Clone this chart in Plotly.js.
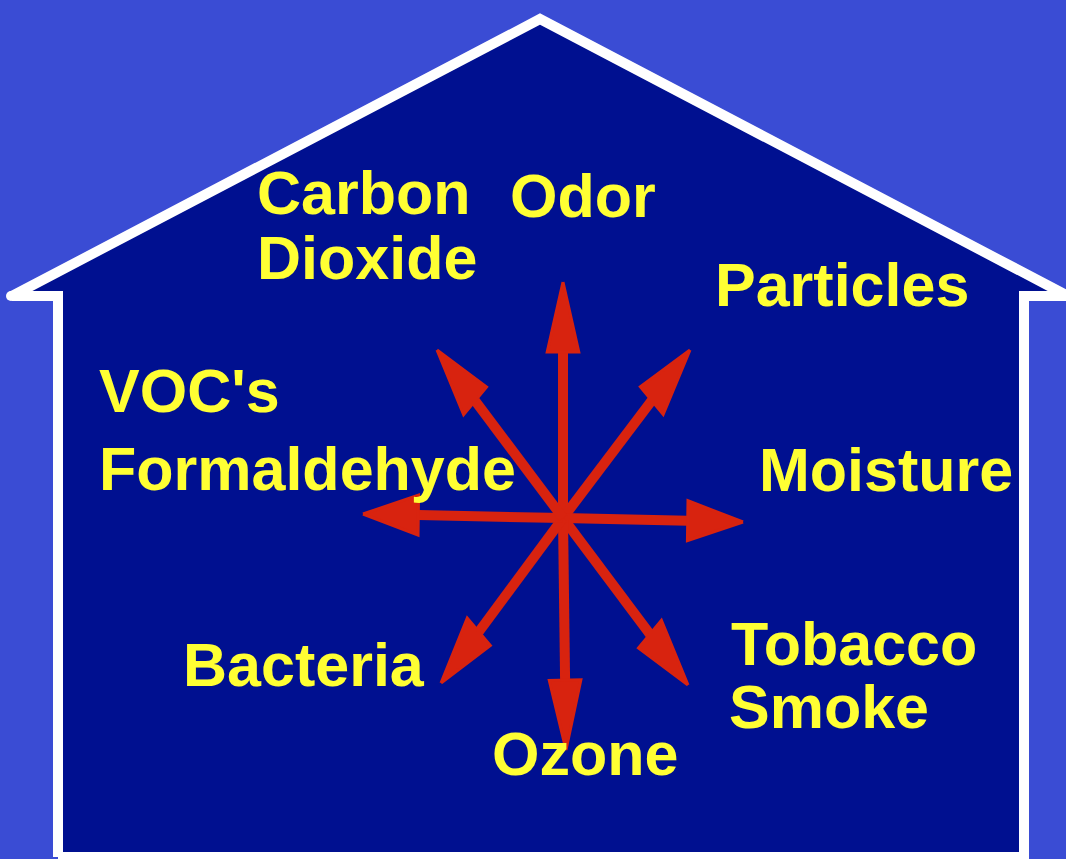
<!DOCTYPE html>
<html>
<head>
<meta charset="utf-8">
<script src="https://cdn.plot.ly/plotly-3.0.1.min.js"></script>
<style>html,body{margin:0;padding:0;background:#3a4cd4;}#chart{width:1066px;height:859px;}</style>
</head>
<body>
<div id="chart"></div>
<script>
// ---- data ----
// pollutant labels (one entry per text line)
const labelLines = ["Carbon", "Dioxide", "Odor", "Particles", "VOC's", "Formaldehyde",
                    "Moisture", "Bacteria", "Tobacco", "Smoke", "Ozone"];
const labelLeft  = [259, 259, 512, 717, 101, 101, 761, 185, 733, 731, 494];
const labelBase  = [215, 280, 218, 307, 413, 491, 492, 687, 666, 729, 776];

// arrows radiating from the centre of the house
const arrowNames = ["Odor", "Particles", "Moisture", "Tobacco Smoke", "Ozone", "Bacteria", "VOC's Formaldehyde", "Carbon Dioxide"];
const arrowTipX  = [563, 690, 743, 688, 566, 441, 363, 437];
const arrowTipY  = [282, 350, 522, 685, 750, 683, 514, 350];
const centerX = 563, centerY = 518;

// house outline (x, y in picture units)
const houseX = [58, 58, 12, 540, 1068, 1024, 1024, 58];
const houseY = [857, 296, 296, 19, 296, 296, 857, 857];
const eaveX = [11, 1068], eaveY = [296, 296];

// ---- styles ----
const BG = '#3a4cd4', HOUSE = '#001090', RED = '#d8230f', YELLOW = '#ffff33';
const headLen = 70, headWid = 40, sx = 0.79;

const traces = [];
traces.push({x: houseX, y: houseY, mode: 'lines', fill: 'toself', fillcolor: HOUSE,
  line: {color: '#ffffff', width: 10}, hoverinfo: 'skip', type: 'scatter'});
traces.push({x: eaveX, y: eaveY, mode: 'markers',
  marker: {color: '#ffffff', size: 10, line: {width: 0}}, hoverinfo: 'skip', type: 'scatter'});

for (let i = 0; i < arrowTipX.length; i++) {
  const tx = arrowTipX[i], ty = arrowTipY[i];
  let dx = (tx - centerX) / sx, dy = ty - centerY;
  const n = Math.hypot(dx, dy); dx /= n; dy /= n;
  const px = -dy, py = dx;
  const bx = tx / sx - headLen * dx, by = ty - headLen * dy;
  const c1x = (bx + headWid / 2 * px) * sx, c1y = by + headWid / 2 * py;
  const c2x = (bx - headWid / 2 * px) * sx, c2y = by - headWid / 2 * py;
  // shaft
  traces.push({x: [centerX, bx * sx], y: [centerY, by], mode: 'lines',
    line: {color: RED, width: 10}, hoverinfo: 'skip', type: 'scatter'});
  // head
  traces.push({x: [tx, c1x, c2x, tx], y: [ty, c1y, c2y, ty], mode: 'lines', fill: 'toself',
    fillcolor: RED, line: {color: RED, width: 3}, hoverinfo: 'skip', type: 'scatter'});
}

const annotations = labelLines.map((t, i) => ({
  text: t, x: labelLeft[i] - 4, y: labelBase[i] - 22, xref: 'x', yref: 'y',
  xanchor: 'left', yanchor: 'middle', showarrow: false,
  font: {family: 'Liberation Sans, Arial, sans-serif', size: 61, color: YELLOW, weight: 'bold'}
}));

const layout = {
  width: 1066, height: 859,
  margin: {l: 0, r: 0, t: 0, b: 0, pad: 0},
  paper_bgcolor: BG, plot_bgcolor: BG,
  showlegend: false,
  xaxis: {range: [0, 1066], visible: false, fixedrange: true},
  yaxis: {range: [859, 0], visible: false, fixedrange: true},
  annotations: annotations
};

Plotly.newPlot('chart', traces, layout, {displayModeBar: false, staticPlot: true});
</script>
</body>
</html>
